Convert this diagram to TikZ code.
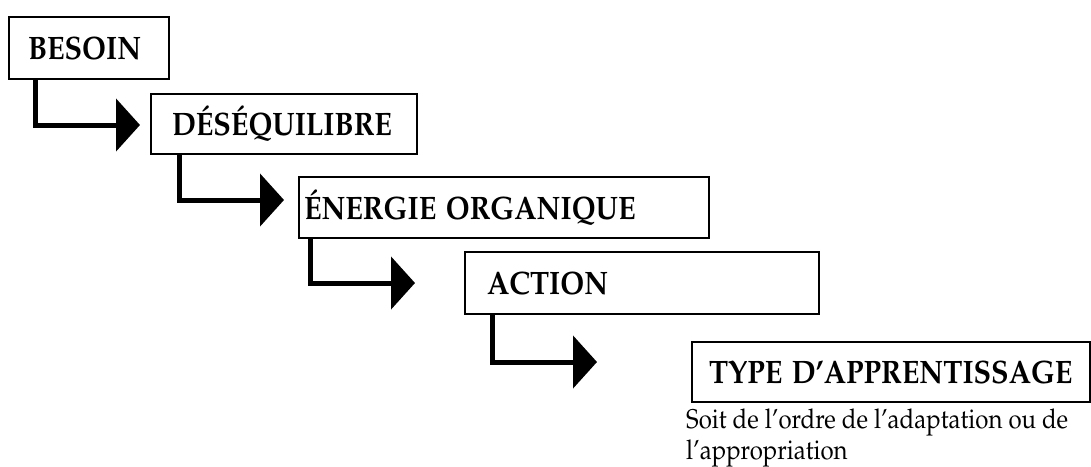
\documentclass[tikz,border=0pt]{standalone}
\usepackage[T1]{fontenc}
\usepackage{mathpazo}
\usetikzlibrary{arrows.meta}
\newcommand{\tallt}[1]{\scalebox{1}[1.13]{#1}}
\tikzset{
  box/.style={draw, line width=2pt, rectangle, anchor=north west, align=left,
    inner ysep=0pt, font=\fontsize{28.7}{30}\selectfont\bfseries},
  conn/.style={line width=5pt, -{Triangle[length=24pt,width=52pt]}},
  note/.style={anchor=base west, inner sep=0pt,
    font=\fontsize{24}{27.5}\selectfont}
}
\begin{document}
\begin{tikzpicture}[x=1pt,y=-1pt]
\useasboundingbox (0,0) rectangle (1091,466);
\node[box, minimum width=160, minimum height=62, inner xsep=19pt, text width=122pt] (b1) at (8,16) {\tallt{BESOIN}};
\node[box, minimum width=266, minimum height=60, inner xsep=21pt, text width=224pt] (b2) at (150,93) {\tallt{D\'ES\'EQUILIBRE}};
\node[box, minimum width=410, minimum height=61, inner xsep=5pt, text width=400pt] (b3) at (298,176) {\tallt{\'ENERGIE ORGANIQUE}};
\node[box, minimum width=354, minimum height=62, inner xsep=22pt, text width=310pt] (b4) at (464,251) {\tallt{ACTION}};
\node[box, minimum width=398, minimum height=60, inner xsep=17pt, text width=364pt] (b5) at (691,341) {\tallt{TYPE D'APPRENTISSAGE}};
\node[note] (n) at (686,428.5) {\tallt{\begin{tabular}[t]{@{}l@{}}Soit de l'ordre de l'adaptation ou de\\l'appropriation\end{tabular}}};
\coordinate (t1) at (140,125);
\coordinate (t2) at (284,200);
\coordinate (t3) at (415,283);
\coordinate (t4) at (597,362);
\draw[conn] ([xshift=27pt]b1.south west) |- (t1);
\draw[conn] ([xshift=29pt]b2.south west) |- (t2);
\draw[conn] ([xshift=12pt]b3.south west) |- (t3);
\draw[conn] ([xshift=28pt]b4.south west) |- (t4);
\end{tikzpicture}
\end{document}
